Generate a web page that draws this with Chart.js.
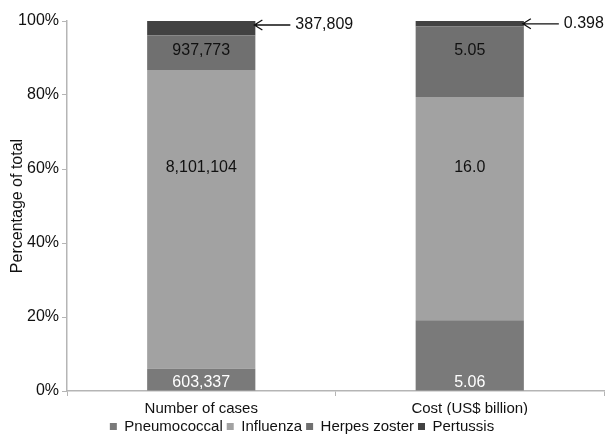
<!DOCTYPE html>
<html lang="en">
<head>
    <meta charset="UTF-8">
    <title>Cases and cost by disease</title>
    <script src="https://cdn.jsdelivr.net/npm/chart.js"></script>
    <style>
        body { margin: 0; background: #ffffff; }
        #wrap { width: 606px; height: 438px; }
    </style>
</head>
<body>
    <div id="wrap"><canvas id="chart"></canvas></div>

    <script>
        // Raw values
        const categories = ['Number of cases', 'Cost (US$ billion)'];
        const seriesNames = ['Pneumococcal', 'Influenza', 'Herpes zoster', 'Pertussis'];
        const pneumococcal = [603337, 5.06];
        const influenza = [8101104, 16.0];
        const herpesZoster = [937773, 5.05];
        const pertussis = [387809, 0.398];
        const yTicks = [0, 20, 40, 60, 80, 100];

        const seriesColors = ['#7a7a7a', '#a2a2a2', '#707070', '#424242'];
        // heights (in % of axis) where the segment labels sit in the original
        const labelAt = [2.4, 60.4, 92.0];

        const raw = [pneumococcal, influenza, herpesZoster, pertussis];
        const totals = categories.map((c, i) => raw.reduce((s, arr) => s + arr[i], 0));
        const pct = raw.map(arr => arr.map((v, i) => v / totals[i] * 100));

        function fmt(v, i) {
            return i === 0 ? v.toLocaleString('en-US') : v.toPrecision(3);
        }

        const FONT = '"Liberation Sans", Arial, sans-serif';
        Chart.defaults.font.family = FONT;
        Chart.defaults.font.size = 15;
        Chart.defaults.color = '#111111';

        const segmentLabels = {
            id: 'segmentLabels',
            afterDatasetsDraw(chart) {
                const ctx = chart.ctx;
                const yScale = chart.scales.y;
                ctx.save();
                ctx.font = '16px ' + FONT;
                ctx.textBaseline = 'middle';
                raw.forEach((arr, d) => {
                    const meta = chart.getDatasetMeta(d);
                    meta.data.forEach((bar, i) => {
                        const text = fmt(arr[i], i);
                        if (d < 3) {
                            ctx.fillStyle = d === 0 ? '#ffffff' : '#111111';
                            ctx.textAlign = 'center';
                            ctx.fillText(text, bar.x, yScale.getPixelForValue(labelAt[d]));
                        } else {
                            const y = Math.min((bar.y + bar.base) / 2, bar.y + 4);
                            const tip = bar.x + bar.width / 2 - 1;
                            const end = tip + 36;
                            ctx.strokeStyle = '#111111';
                            ctx.lineWidth = 1.3;
                            ctx.beginPath();
                            ctx.moveTo(tip, y);
                            ctx.lineTo(end, y);
                            ctx.moveTo(tip + 8, y - 5);
                            ctx.lineTo(tip, y);
                            ctx.lineTo(tip + 8, y + 5);
                            ctx.stroke();
                            ctx.fillStyle = '#111111';
                            ctx.textAlign = 'left';
                            ctx.fillText(text, end + 5, y);
                        }
                    });
                });
                ctx.restore();
            }
        };

        new Chart(document.getElementById('chart'), {
            type: 'bar',
            data: {
                labels: categories,
                datasets: seriesNames.map((name, d) => ({
                    label: name,
                    data: pct[d],
                    backgroundColor: seriesColors[d],
                    borderWidth: 0,
                    categoryPercentage: 1,
                    barPercentage: 0.403
                }))
            },
            options: {
                responsive: true,
                maintainAspectRatio: false,
                animation: false,
                layout: { padding: { top: 21, right: 2, left: 0, bottom: -6 } },
                plugins: {
                    tooltip: { enabled: false },
                    legend: {
                        position: 'bottom',
                        labels: {
                            boxWidth: 7,
                            boxHeight: 7,
                            padding: 4,
                            color: '#111111',
                            font: { size: 15, lineHeight: 1 }
                        }
                    }
                },
                scales: {
                    x: {
                        stacked: true,
                        offset: true,
                        border: { color: '#b5b5b5', width: 1.5 },
                        grid: { display: true, drawOnChartArea: false, tickLength: 5, color: '#b5b5b5' },
                        ticks: { color: '#111111', padding: 4, font: { size: 15 } },
                        afterFit(scale) { scale.height = 24; }
                    },
                    y: {
                        stacked: true,
                        min: 0,
                        max: 100,
                        afterBuildTicks(scale) { scale.ticks = yTicks.map(v => ({ value: v })); },
                        border: { color: '#b5b5b5', width: 1.5 },
                        grid: { display: true, drawOnChartArea: false, tickLength: 5, color: '#b5b5b5' },
                        ticks: { color: '#111111', padding: 3, font: { size: 16 }, callback: v => v + '%' },
                        title: { display: true, text: 'Percentage of total', color: '#111111', font: { size: 16 }, padding: 8 },
                        afterFit(scale) { scale.width = 67; }
                    }
                }
            },
            plugins: [segmentLabels]
        });
    </script>
</body>
</html>
